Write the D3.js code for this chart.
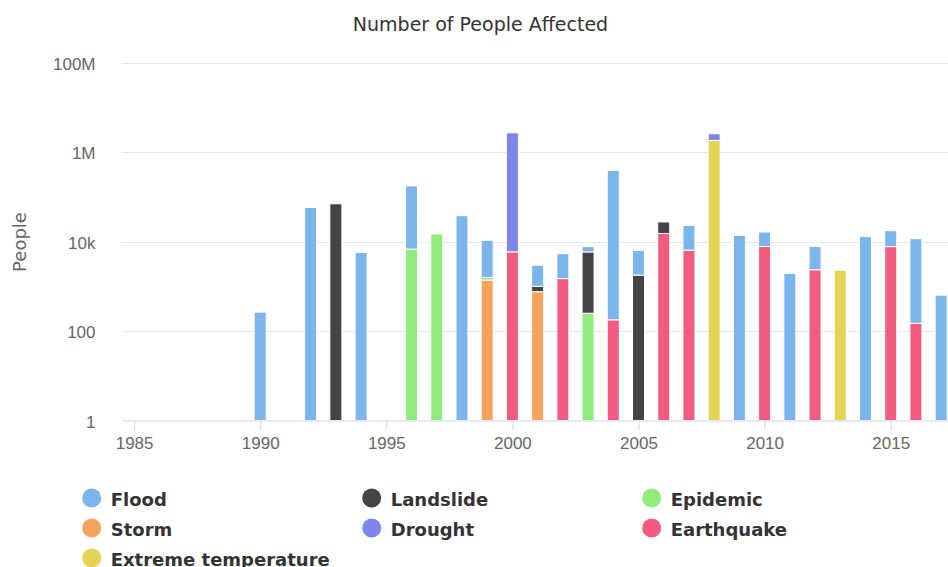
<!DOCTYPE html>
<html>
<head>
<meta charset="utf-8">
<script src="https://cdn.jsdelivr.net/npm/d3@7"></script>
<style>
	body { margin: 0; background: #fff; }
	svg { display: block; font-family: "DejaVu Sans", sans-serif; }
	.grid line { stroke: #e6e6e6; }
	.axisX path, .axisX line { stroke: #ccd6eb; }
	.axisX text, .axisY text { fill: #666666; font-size: 17px; }
	.legend text { fill: #333333; font-size: 18px; font-weight: bold; }
</style>
</head>
<body>
<div id="chart"></div>
<script>
// years that have at least one disaster
var years = [1990, 1992, 1993, 1994, 1996, 1997, 1998, 1999, 2000, 2001, 2002, 2003, 2004,
	2005, 2006, 2007, 2008, 2009, 2010, 2011, 2012, 2013, 2014, 2015, 2016, 2017];

// people affected per year, 0 = nothing recorded
var flood      = [265, 58000, 0, 5700, 169000, 0, 38000, 9100, 0, 1960, 3880, 1870, 390000,
	4550, 0, 16500, 0, 13800, 8600, 1950, 5400, 0, 12900, 9800, 11450, 635];
var landslide  = [0, 0, 70000, 0, 0, 0, 0, 0, 0, 240, 0, 5620, 0,
	1780, 12300, 0, 0, 0, 0, 0, 0, 0, 0, 0, 0, 0];
var epidemic   = [0, 0, 0, 0, 6800, 14800, 0, 200, 0, 0, 0, 250, 0,
	0, 0, 0, 0, 0, 0, 0, 0, 0, 0, 0, 0, 0];
var storm      = [0, 0, 0, 0, 0, 0, 0, 1380, 0, 760, 0, 0, 0,
	0, 0, 0, 0, 0, 0, 0, 0, 0, 0, 0, 0, 0];
var drought    = [0, 0, 0, 0, 0, 0, 0, 0, 2700000, 0, 0, 0, 0,
	0, 0, 0, 750000, 0, 0, 0, 0, 0, 0, 0, 0, 0];
var earthquake = [0, 0, 0, 0, 0, 0, 0, 0, 5900, 0, 1490, 0, 178,
	0, 15200, 6470, 0, 0, 7780, 0, 2350, 0, 0, 7740, 149, 0];
var extremeTemp = [0, 0, 0, 0, 0, 0, 0, 0, 0, 0, 0, 0, 0,
	0, 0, 0, 1830000, 0, 0, 0, 0, 2300, 0, 0, 0, 0];

// legend order (first series is drawn on top of the stack)
var seriesNames  = ["Flood", "Landslide", "Epidemic", "Storm", "Drought", "Earthquake", "Extreme temperature"];
var seriesValues = [flood, landslide, epidemic, storm, drought, earthquake, extremeTemp];
var seriesColors = ["#7cb5ec", "#434348", "#90ed7d", "#f7a35c", "#8085e9", "#f15c80", "#e4d354"];

var yTicks = [1, 100, 1e4, 1e6, 1e8];
var yTickLabels = ["1", "100", "10k", "1M", "100M"];
var xTicks = [1985, 1990, 1995, 2000, 2005, 2010, 2015];

var W = 948, H = 567;
var plotLeft = 121.5, plotTop = 62.7, plotBottom = 420.5;

var rows = years.map(function(y, i)
{
	var r = {year: y};
	seriesNames.forEach(function(n, j) { r[n] = seriesValues[j][i]; });
	return r;
});

var xS = d3.scaleLinear()
	.domain([1984.5, 2018.5])
	.range([plotLeft, plotLeft + 34 * 25.22]);

var yS = d3.scaleLog()
	.domain([1, 1e8])
	.range([plotBottom, plotTop])
	.clamp(true);

var color = d3.scaleOrdinal().domain(seriesNames).range(seriesColors);

// stack bottom-up: reverse of legend order
var stack = d3.stack().keys(seriesNames.slice().reverse());
var layers = stack(rows);

var svg = d3.select("#chart").append("svg")
	.attr("width", W)
	.attr("height", H);

svg.append("text")
	.attr("x", 480.5)
	.attr("y", 31)
	.attr("text-anchor", "middle")
	.style("font-size", "19px")
	.style("fill", "#333333")
	.text("Number of People Affected");

//Grid lines
svg.append("g")
	.attr("class", "grid")
	.selectAll("line")
	.data(yTicks.slice(1))
	.enter().append("line")
		.attr("x1", plotLeft)
		.attr("x2", W)
		.attr("y1", function(d) { return Math.round(yS(d)) + 0.5; })
		.attr("y2", function(d) { return Math.round(yS(d)) + 0.5; });

//Y axis labels
var yAxis = d3.axisLeft(yS)
	.tickValues(yTicks)
	.tickFormat(function(d, i) { return yTickLabels[i]; })
	.tickSize(0)
	.tickPadding(26);

svg.append("g")
	.attr("class", "axisY")
	.attr("transform", "translate(" + plotLeft + ",0)")
	.call(yAxis)
	.call(function(g) { g.select(".domain").remove(); })
	.selectAll("text")
		.attr("dy", "0.4em");

svg.append("text")
	.attr("transform", "translate(26,242) rotate(-90)")
	.attr("text-anchor", "middle")
	.style("font-size", "18px")
	.style("fill", "#666666")
	.text("People");

//Bars
svg.append("g")
	.selectAll("g")
	.data(layers)
	.enter().append("g")
		.attr("fill", function(d) { return color(d.key); })
	.selectAll("rect")
	.data(function(d) { return d.filter(function(e) { return e[1] - e[0] > 0; }); })
	.enter().append("rect")
		.attr("x", function(d) { return xS(d.data.year) - 6; })
		.attr("width", 12)
		.attr("y", function(d) { return yS(d[1]); })
		.attr("height", function(d) { return yS(Math.max(d[0], 1)) - yS(d[1]); })
		.attr("stroke", "#ffffff")
		.attr("stroke-width", 1);

//X axis
var xAxis = d3.axisBottom(xS)
	.tickValues(xTicks)
	.tickFormat(d3.format("d"))
	.tickSizeInner(10)
	.tickSizeOuter(0)
	.tickPadding(6);

svg.append("g")
	.attr("class", "axisX")
	.attr("transform", "translate(0," + plotBottom + ")")
	.call(xAxis);

//Legend
var legend = svg.append("g")
	.attr("class", "legend")
	.selectAll("g")
	.data(seriesNames)
	.enter().append("g")
		.attr("transform", function(d, i) {
			return "translate(" + (91.7 + (i % 3) * 280) + "," + (498 + Math.floor(i / 3) * 30) + ")";
		});

legend.append("circle")
	.attr("r", 9.5)
	.attr("fill", function(d) { return color(d); });

legend.append("text")
	.attr("x", 19)
	.attr("y", 7.5)
	.text(function(d) { return d; });
</script>
</body>
</html>
